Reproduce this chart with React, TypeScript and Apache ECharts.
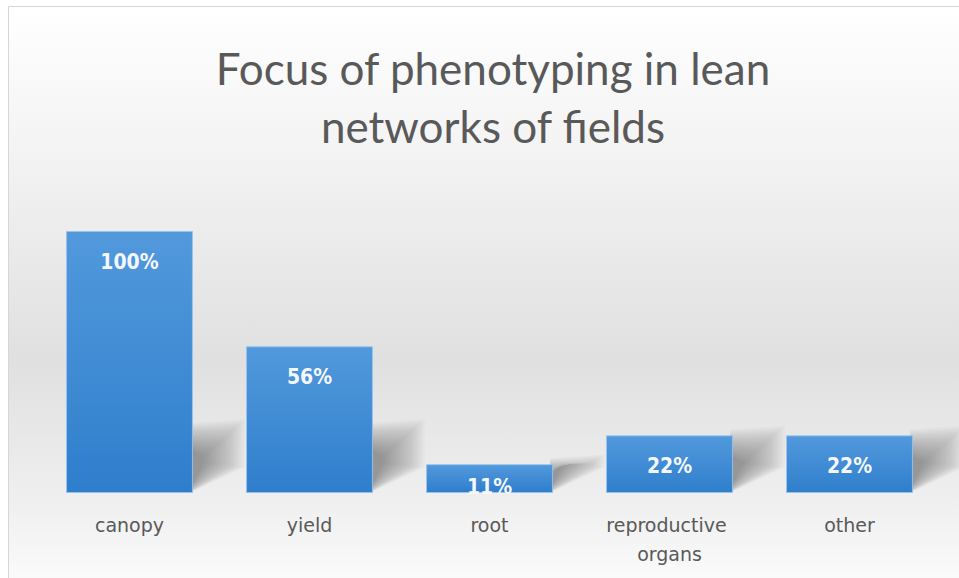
import React, { useEffect, useRef } from "react";
import * as echarts from "echarts";

const categories = ["canopy", "yield", "root", "reproductive organs", "other"];
const values = [100, 56, 11, 22, 22];
const valueLabels = ["100%", "56%", "11%", "22%", "22%"];
const titleText = "Focus of phenotyping in lean\nnetworks of fields";

export default function App() {
  const ref = useRef<HTMLDivElement>(null);
  useEffect(() => {
    if (!ref.current) return;
    const chart = echarts.init(ref.current, null, { renderer: "svg" });
    const barWidthRatio = 0.705;
    const layers = 26;
    chart.setOption({
      animation: false,
      backgroundColor: "#ffffff",
      graphic: [
        {
          type: "rect",
          z: -10,
          shape: { x: 8.5, y: 6.5, width: 970, height: 590 },
          style: {
            fill: new echarts.graphic.LinearGradient(0, 0, 0, 1, [
              { offset: 0, color: "#ffffff" },
              { offset: 0.25, color: "#f3f3f3" },
              { offset: 0.6, color: "#e0e0e0" },
              { offset: 0.85, color: "#f0f0f0" },
              { offset: 1, color: "#fdfdfd" },
            ]),
            stroke: "#d6d6d6",
            lineWidth: 1,
          },
        },
      ],
      title: {
        text: titleText,
        left: 488,
        top: 34,
        textAlign: "center",
        textStyle: {
          fontFamily: "Lato",
          fontWeight: "normal",
          fontSize: 44,
          lineHeight: 58,
          color: "#595959",
        },
      },
      grid: { left: 39.5, right: 19.5, top: 231, bottom: 85, containLabel: false },
      xAxis: {
        type: "category",
        data: categories,
        axisLine: { show: false },
        axisTick: { show: false },
        axisLabel: {
          interval: 0,
          margin: 17,
          color: "#595959",
          fontFamily: "DejaVu Sans",
          fontSize: 19,
          lineHeight: 29,
          width: 140,
          overflow: "break",
        },
      },
      yAxis: {
        type: "value",
        min: 0,
        max: 100,
        show: false,
        splitLine: { show: false },
      },
      series: [
        {
          type: "custom",
          z: 1,
          silent: true,
          data: values.map((v, i) => [i, v]),
          renderItem: (params: any, api: any) => {
            const idx = api.value(0);
            const top = api.coord([idx, api.value(1)]);
            const base = api.coord([idx, 0]);
            const bw = api.size([1, 0])[0] * barWidthRatio;
            const xr = top[0] + bw / 2;
            const yb = base[1];
            const h = yb - top[1];
            const s = Math.min(h, 64);
            const children: any[] = [];
            for (let k = 0; k < layers; k++) {
              const t = k / layers;
              const right = xr + 52 - t * 44;
              const topL = yb - s - 6 + t * Math.min(s * 0.6, 28);
              const topR = topL - 4 + t * 12;
              const botL = yb - t * 5;
              const botR = yb - 26 - t * 4;
              children.push({
                type: "polygon",
                shape: {
                  points: [
                    [xr - 3, botL],
                    [xr - 3, topL],
                    [right, Math.min(topR, botR - 2)],
                    [right, botR],
                  ],
                },
                style: { fill: "rgba(40,40,40,0.018)" },
              });
            }
            return { type: "group", children };
          },
        },
        {
          type: "bar",
          z: 2,
          barWidth: "70.5%",
          data: values.map((v, i) => ({
            value: v,
            label: i === 2 ? { distance: 12 } : undefined,
          })),
          itemStyle: {
            color: new echarts.graphic.LinearGradient(0, 0, 0, 1, [
              { offset: 0, color: "#5299dc" },
              { offset: 1, color: "#2f7ecc" },
            ]),
            borderColor: "rgba(150,195,240,0.9)",
            borderWidth: 1,
          },
          label: {
            show: true,
            position: "insideTop",
            distance: 20,
            formatter: (p: any) => valueLabels[p.dataIndex],
            color: "#f4f8fc",
            fontFamily: "DejaVu Sans Condensed",
            fontWeight: "bold",
            fontSize: 21,
          },
        },
      ],
    });
    return () => chart.dispose();
  }, []);
  return (
    <div
      ref={ref}
      style={{ position: "fixed", left: 0, top: 0, width: 959, height: 578 }}
    />
  );
}
